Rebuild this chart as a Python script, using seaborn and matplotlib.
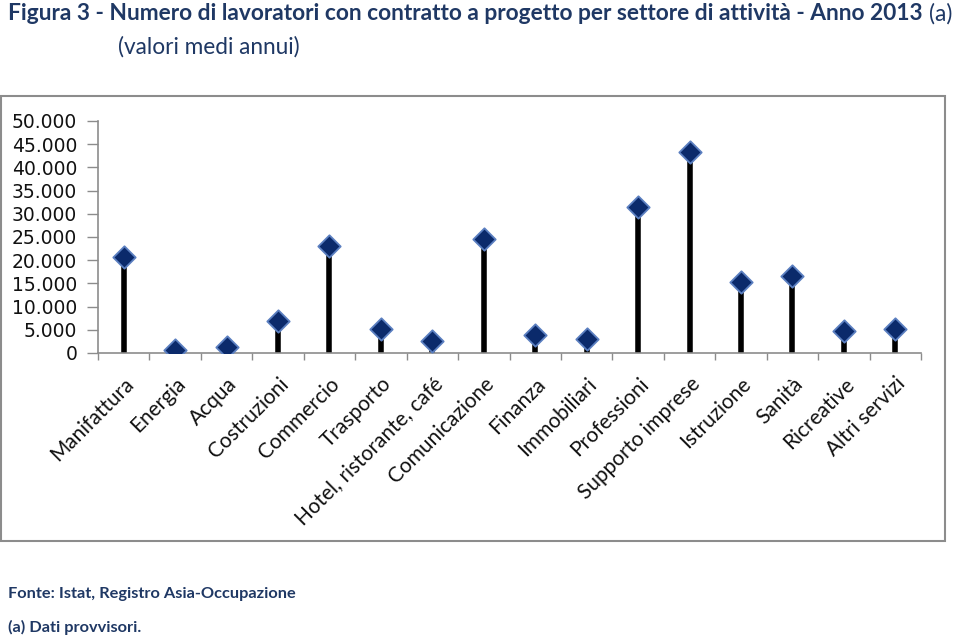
import matplotlib
matplotlib.use("Agg")
import matplotlib.pyplot as plt
import matplotlib.patches as patches
import seaborn as sns
import pandas as pd

# Lavoratori con contratto a progetto per settore - Anno 2013
settori = ['Manifattura', 'Energia', 'Acqua', 'Costruzioni', 'Commercio', 'Trasporto',
           'Hotel, ristorante, café', 'Comunicazione', 'Finanza', 'Immobiliari',
           'Professioni', 'Supporto imprese', 'Istruzione', 'Sanità', 'Ricreative',
           'Altri servizi']
lavoratori = [20600, 750, 1350, 7000, 23100, 5200, 2650, 24600, 3900, 2950,
              31400, 43400, 15400, 16600, 4700, 5100]
y_ticks = [0, 5000, 10000, 15000, 20000, 25000, 30000, 35000, 40000, 45000, 50000]
y_tick_labels = ['0', '5.000', '10.000', '15.000', '20.000', '25.000', '30.000',
                 '35.000', '40.000', '45.000', '50.000']

df = pd.DataFrame({'Settore': settori, 'Lavoratori': lavoratori})
navy = '#1F3864'

sns.set_theme(style="white")
plt.rcParams['font.family'] = ['Lato', 'DejaVu Sans']

fig = plt.figure(figsize=(9.6, 6.41), dpi=100)
W, H = 960, 641

# chart area border
fig.patches.append(patches.Rectangle((1 / W, 1 - 541 / H), 944 / W, 445 / H,
                                     transform=fig.transFigure, fill=False,
                                     edgecolor='#8c8c8c', linewidth=1.5))

ax = fig.add_axes([98 / W, 1 - 353 / H, 823 / W, 232 / H])
ax.patch.set_alpha(0)

xs = list(range(len(settori)))
ax.vlines(xs, 0, df['Lavoratori'], color='black', linewidth=4, zorder=2)
sns.scatterplot(data=df, x='Settore', y='Lavoratori', marker='D', s=130,
                color='#0B2A6B', edgecolor='#5B7FC0', linewidth=1.3, zorder=3,
                ax=ax, legend=False)

ax.set_xlim(-0.5, len(settori) - 0.5)
ax.set_ylim(0, 50000)
ax.set_xlabel('')
ax.set_ylabel('')

ax.set_yticks(y_ticks)
ax.set_yticklabels(y_tick_labels, fontfamily='DejaVu Sans', fontsize=13.5, color='#111111')
ax.tick_params(axis='y', direction='out', length=8, width=1, color='#8c8c8c', pad=7, left=True)

ax.set_xticks(xs)
ax.set_xticklabels(settori, rotation=45, ha='right', rotation_mode='anchor',
                   fontsize=15, color='#111111')
ax.tick_params(axis='x', which='major', length=0, pad=15)
ax.set_xticks([x - 0.5 for x in range(len(settori) + 1)], minor=True)
ax.tick_params(axis='x', which='minor', direction='out', length=5, width=1,
               color='#8c8c8c', bottom=True)

for s in ['top', 'right']:
    ax.spines[s].set_visible(False)
for s in ['left', 'bottom']:
    ax.spines[s].set_color('#8c8c8c')
    ax.spines[s].set_linewidth(1.2)

title = fig.text(8 / W, 1 - 14 / H,
                 'Figura 3 - Numero di lavoratori con contratto a progetto per settore di attività - Anno 2013',
                 fontsize=16.4, fontweight='bold', color=navy, va='center', ha='left')
fig.canvas.draw()
bb = title.get_window_extent()
fig.text((bb.x1 + 6) / W, 1 - 14 / H, '(a)', fontsize=16.4, color=navy,
         va='center', ha='left')
fig.text(118 / W, 1 - 47 / H, '(valori medi annui)', fontsize=16.3, color=navy,
         va='center', ha='left')
fig.text(8 / W, 1 - 594 / H, 'Fonte: Istat, Registro Asia-Occupazione', fontsize=11.8,
         fontweight='bold', color=navy, va='center', ha='left')
fig.text(8 / W, 1 - 627 / H, '(a) Dati provvisori.', fontsize=11.8,
         fontweight='bold', color=navy, va='center', ha='left')

fig.savefig('out.png', dpi=100)
